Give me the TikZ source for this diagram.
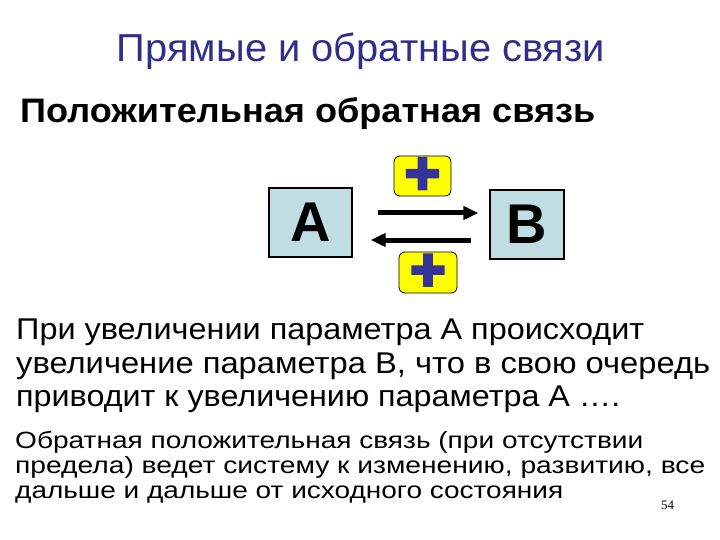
\documentclass[tikz,border=0pt]{standalone}
\usepackage{fontspec}
\usepackage{graphicx}
\setmainfont{Liberation Sans}
\newfontfamily\plusfont[FakeBold=5]{Liberation Sans Bold}
\newfontfamily\numfont{Liberation Serif}
\usetikzlibrary{arrows.meta}
\definecolor{titleblue}{RGB}{46,46,140}
\definecolor{boxblue}{RGB}{192,222,226}
\definecolor{plusblue}{RGB}{51,51,153}
\definecolor{plusyellow}{RGB}{255,255,0}
\tikzset{
  txt/.style={inner sep=0pt, anchor=base west},
  letterbox/.style={draw=black, line width=1.1pt, fill=boxblue, inner sep=0pt,
    font=\fontsize{56}{56}\selectfont\bfseries},
  plusbox/.style={draw=black, line width=0.8pt, fill=plusyellow, rounded corners=6pt,
    inner sep=0pt, text=plusblue, font=\fontsize{60}{60}\plusfont},
  arr/.style={line width=5pt, -{Triangle[length=15pt,width=13pt]}}
}
\begin{document}
\begin{tikzpicture}[x=1pt,y=-1pt]
\useasboundingbox (0,0) rectangle (720,540);
\node[inner sep=0pt, anchor=base, text=titleblue, font=\fontsize{39}{39}\selectfont] (title) at (361,62)
  {\resizebox{488pt}{\height}{Прямые и обратные связи}};
\node[txt, font=\fontsize{34}{34}\selectfont\bfseries] (sub) at (20,123)
  {\resizebox{575pt}{\height}{Положительная обратная связь}};

\node[letterbox, minimum width=83pt, minimum height=69pt] (A) at (310.5,222.5) {A};
\node[letterbox, minimum width=74pt, minimum height=69pt] (B) at (527,224.5) {B};
\node[plusbox, minimum width=57pt, minimum height=40pt] (p1) at (422.5,176) {+};
\node[plusbox, minimum width=58pt, minimum height=41pt] (p2) at (428,272.5) {+};

\draw[arr, shorten <=25pt, shorten >=11pt] (A.east |- 0,213) -- (B.west |- 0,213);
\draw[arr, shorten <=18pt, shorten >=18pt] (B.west |- 0,240) -- (A.east |- 0,240);

\node[txt, font=\fontsize{30}{30}\selectfont] (l1) at (16,339)
  {\resizebox{628pt}{\height}{При увеличении параметра А происходит}};
\node[txt, font=\fontsize{30}{30}\selectfont] (l2) at (16,373)
  {\resizebox{694pt}{\height}{увеличение параметра В, что в свою очередь}};
\node[txt, font=\fontsize{30}{30}\selectfont] (l3) at (16,406)
  {\resizebox{604pt}{\height}{приводит к увеличению параметра А ….}};

\node[txt, font=\fontsize{23.5}{23.5}\selectfont] (m1) at (15,448)
  {\resizebox{628pt}{\height}{Обратная положительная связь (при отсутствии}};
\node[txt, font=\fontsize{23.5}{23.5}\selectfont] (m2) at (15,473)
  {\resizebox{690pt}{\height}{предела) ведет систему к изменению, развитию, все}};
\node[txt, font=\fontsize{23.5}{23.5}\selectfont] (m3) at (15,498)
  {\resizebox{548pt}{\height}{дальше и дальше от исходного состояния}};
\node[txt, font=\fontsize{13}{13}\numfont] (pg) at (661,509) {54};
\end{tikzpicture}
\end{document}
